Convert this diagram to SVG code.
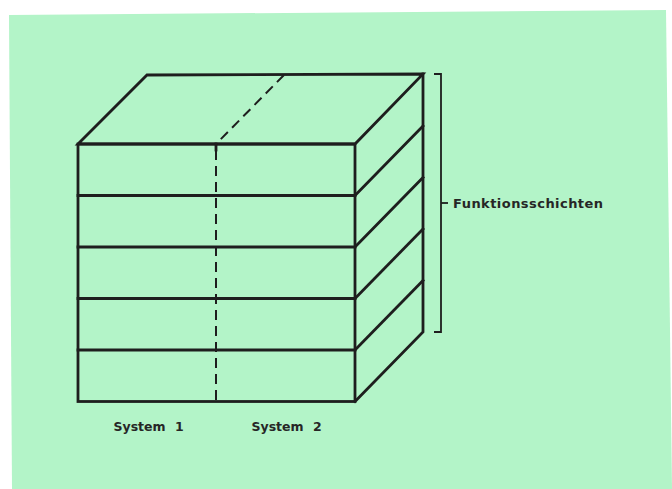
<svg xmlns="http://www.w3.org/2000/svg" width="672" height="489" viewBox="0 0 672 489">
  <style>
    .ln { fill: none; stroke: #1e1e1e; stroke-width: 2.8; stroke-linejoin: miter; stroke-linecap: square; }
    .dash { fill: none; stroke: #1e1e1e; stroke-width: 2; stroke-dasharray: 10 6; }
    .br { fill: none; stroke: #1e1e1e; stroke-width: 1.8; }
    .lbl { font-family: "DejaVu Sans", "Liberation Sans", Arial, sans-serif; font-weight: bold; fill: #262626; }
  </style>
  <rect x="0" y="0" width="672" height="489" fill="#ffffff"/>
  <polygon points="9,15 666,10 672,489 12,489" fill="#b3f4c8"/>

  <g id="cube">
    <polygon class="ln" points="78,144 147,75 423,74 355,144"/>
    <rect class="ln" x="78" y="144" width="277" height="257.5"/>
    <polyline class="ln" points="423,74 423,332 355,401.5"/>
  </g>

  <g id="layers">
    <line class="ln" x1="78" y1="195.5" x2="355" y2="195.5"/>
    <line class="ln" x1="78" y1="247" x2="355" y2="247"/>
    <line class="ln" x1="78" y1="298.5" x2="355" y2="298.5"/>
    <line class="ln" x1="78" y1="350" x2="355" y2="350"/>
    <line class="ln" x1="355" y1="195.5" x2="423" y2="126"/>
    <line class="ln" x1="355" y1="247" x2="423" y2="177.5"/>
    <line class="ln" x1="355" y1="298.5" x2="423" y2="229"/>
    <line class="ln" x1="355" y1="350" x2="423" y2="280.5"/>
  </g>

  <g id="system-divider">
    <line class="dash" x1="284" y1="75" x2="216" y2="144"/>
    <line class="dash" x1="216" y1="150" x2="216" y2="401"/>
    <line class="ln" x1="216" y1="144" x2="216" y2="150"/>
  </g>

  <g id="connectors">
    <polyline class="br" points="434,74 441,74 441,332 434,332"/>
    <line class="br" x1="441" y1="203" x2="448" y2="203"/>
  </g>

  <g id="label-funktionsschichten">
    <text class="lbl" x="453" y="207.5" font-size="13" letter-spacing="0.45">Funktionsschichten</text>
  </g>
  <g id="label-system1">
    <text class="lbl" x="113.5" y="430.5" font-size="12.5" word-spacing="5">System 1</text>
  </g>
  <g id="label-system2">
    <text class="lbl" x="251.5" y="430.5" font-size="12.5" word-spacing="5">System 2</text>
  </g>
</svg>
